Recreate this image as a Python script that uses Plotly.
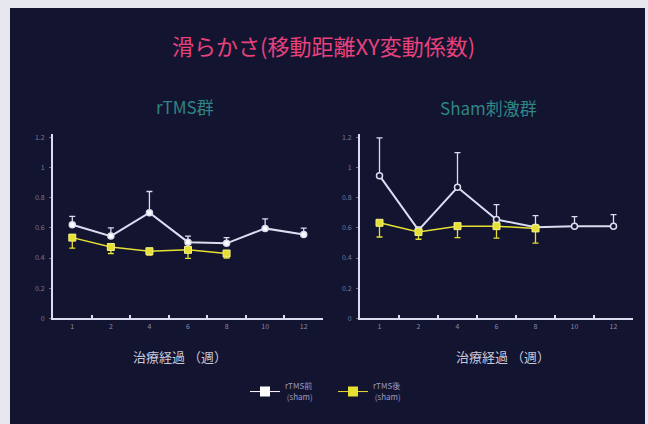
import plotly.graph_objects as go

weeks = ["1", "2", "4", "6", "8", "10", "12"]
weeks_post = ["1", "2", "4", "6", "8"]

# rTMS group
rtms_pre = [0.62, 0.545, 0.70, 0.505, 0.497, 0.596, 0.556]
rtms_pre_err = [0.055, 0.055, 0.14, 0.04, 0.038, 0.063, 0.042]
rtms_post = [0.535, 0.473, 0.445, 0.454, 0.43]
rtms_post_err = [0.07, 0.043, 0.025, 0.057, 0.03]

# Sham group
sham_pre = [0.945, 0.585, 0.868, 0.655, 0.604, 0.611, 0.611]
sham_pre_err = [0.25, 0.02, 0.23, 0.098, 0.076, 0.063, 0.076]
sham_post = [0.633, 0.572, 0.611, 0.611, 0.596]
sham_post_err = [0.094, 0.048, 0.076, 0.08, 0.098]

y_ticks = [0, 0.2, 0.4, 0.6, 0.8, 1, 1.2]
y_tick_text = ["0", "0.2", "0.4", "0.6", "0.8", "1", "1.2"]

legend_names = ["rTMS前<br> (sham)", "rTMS後<br> (sham)"]

BG = "#121430"
WHITE = "#dcdcf0"
YELLOW = "#e6e033"
FONT = "Noto Sans CJK JP"

fig = go.Figure()

def add_pair(pre, pre_err, post, post_err, xa, ya, open_circle):
    fig.add_trace(go.Scatter(
        x=weeks, y=pre, mode="lines+markers", showlegend=False,
        xaxis=xa, yaxis=ya,
        line=dict(color=WHITE, width=2),
        marker=dict(symbol="circle", size=6,
                    color=BG if open_circle else "#ffffff",
                    line=dict(color=WHITE, width=1.5)),
        error_y=dict(type="data", array=pre_err, arrayminus=[0]*len(pre_err),
                     symmetric=False, color=WHITE, thickness=1.3, width=3),
    ))
    fig.add_trace(go.Scatter(
        x=weeks_post, y=post, mode="lines+markers", showlegend=False,
        xaxis=xa, yaxis=ya,
        line=dict(color=YELLOW, width=1.5),
        marker=dict(symbol="square", size=7, color=YELLOW,
                    line=dict(color="#f4f08a", width=1)),
        error_y=dict(type="data", array=[0]*len(post_err), arrayminus=post_err,
                     symmetric=False, color=YELLOW, thickness=1.3, width=3),
    ))

add_pair(rtms_pre, rtms_pre_err, rtms_post, rtms_post_err, "x", "y", False)
add_pair(sham_pre, sham_pre_err, sham_post, sham_post_err, "x2", "y2", True)

# legend entries (square symbols as in the original)
for name, col in zip(legend_names, ["#ffffff", YELLOW]):
    fig.add_trace(go.Scatter(
        x=[None], y=[None], mode="lines+markers", name=name,
        line=dict(color=col, width=1),
        marker=dict(symbol="square", size=10, color=col),
    ))

y0 = 1 - 321 / 424
y1 = 1 - 134 / 424

xaxis_common = dict(
    type="category", categoryorder="array", categoryarray=weeks,
    range=[-0.5, 6.5], showline=True, linecolor=WHITE, linewidth=2,
    showgrid=False, zeroline=False, ticks="inside", tickson="boundaries",
    ticklen=3, tickcolor=WHITE, tickwidth=1.5,
    tickfont=dict(size=7, color="#8a8aa8", family=FONT),
)
yaxis_common = dict(
    range=[0, 1.22], tickvals=y_ticks, ticktext=y_tick_text,
    showline=True, linecolor=WHITE, linewidth=2, showgrid=False, zeroline=False,
    ticks="outside", ticklen=2, tickcolor="#6a6a88",
    tickfont=dict(size=7, color="#7a7a98", family=FONT),
    ticklabelstandoff=3,
    domain=[y0, y1],
)

def ann(text, x, y, size, color):
    return dict(text=text, x=x / 648, y=1 - y / 424, xref="paper", yref="paper",
                xanchor="center", yanchor="middle", showarrow=False,
                font=dict(size=size, color=color, family=FONT))

fig.update_layout(
    width=648, height=424,
    margin=dict(l=0, r=0, t=0, b=0),
    paper_bgcolor="#e6e6ee",
    plot_bgcolor=BG,
    xaxis=dict(domain=[53 / 648, 323 / 648], anchor="y", **xaxis_common),
    yaxis=dict(anchor="x", **yaxis_common),
    xaxis2=dict(domain=[360 / 648, 633 / 648], anchor="y2", **xaxis_common),
    yaxis2=dict(anchor="x2", **yaxis_common),
    shapes=[dict(type="rect", xref="paper", yref="paper",
                 x0=10 / 648, x1=645 / 648, y0=-0.01, y1=1 - 6 / 424,
                 fillcolor=BG, line=dict(width=0), layer="below")],
    annotations=[
        ann("滑らかさ(移動距離XY変動係数)", 323, 44, 22, "#e8417c"),
        ann("rTMS群", 185, 106, 17, "#2f8582"),
        ann("Sham刺激群", 488, 107, 17, "#2f8582"),
        ann("治療経過 （週）", 180, 360, 13, "#c8c8dc"),
        ann("治療経過 （週）", 503, 360, 13, "#c8c8dc"),
    ],
    legend=dict(orientation="h", x=245 / 648, y=1 - 378 / 424,
                xanchor="left", yanchor="top",
                bgcolor="rgba(0,0,0,0)", itemwidth=30,
                entrywidth=43, entrywidthmode="pixels",
                font=dict(size=8, color="#9a9ac0", family=FONT),
                tracegroupgap=0),
    showlegend=True,
)

fig.write_html("out.html")
